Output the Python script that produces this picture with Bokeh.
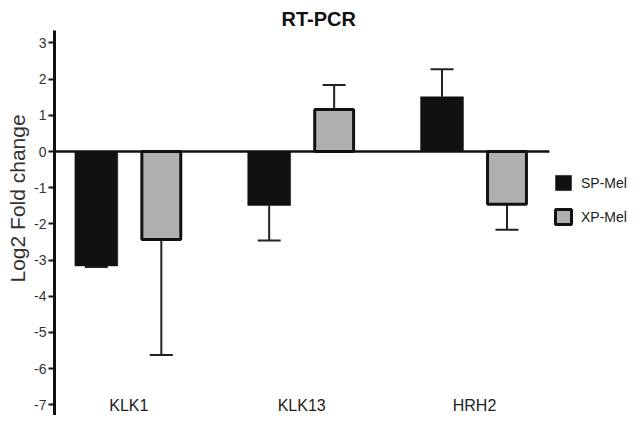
from bokeh.plotting import figure
from bokeh.models import ColumnDataSource, FixedTicker, Legend, LegendItem, LinearAxis, Title
from bokeh.core.properties import value
from bokeh.embed import file_html
from bokeh.resources import INLINE

# ---- data ----
genes = ["KLK1", "KLK13", "HRH2"]
series = ["SP-Mel", "XP-Mel"]
sp_mel = [-3.16, -1.49, 1.51]
xp_mel = [-2.43, 1.16, -1.46]
sp_err = [0.03, 0.97, 0.76]
xp_err = [3.19, 0.68, 0.70]
y_ticks = [3, 2, 1, 0, -1, -2, -3, -4, -5, -6, -7]
y_title = "Log2 Fold change"
chart_title = "RT-PCR"

# ---- layout / styles ----
FONT = "Liberation Sans"
OFFSET = 0.188
SP_W = 0.248
XP_W = 0.225
X_START, X_END = -0.430, 2.891      # frame spans to the right edge (legend lives inside)
ZERO_END = 2.435                    # where the zero axis line stops
Y_START, Y_END = -7.293, 3.343
LABEL_Y = -7.265                    # bottom of the category labels

gx = list(range(len(genes)))

def err_end(vals, errs):
    return [v - e if v < 0 else v + e for v, e in zip(vals, errs)]

sp_src = ColumnDataSource(dict(x=[g - OFFSET for g in gx], top=sp_mel, end=err_end(sp_mel, sp_err)))
xp_src = ColumnDataSource(dict(x=[g + OFFSET for g in gx], top=xp_mel, end=err_end(xp_mel, xp_err)))

p = figure(width=628, height=415, output_backend="svg", toolbar_location=None,
           x_range=(X_START, X_END), y_range=(Y_START, Y_END),
           x_axis_location=None, min_border_left=53, min_border_right=0,
           min_border_top=30, min_border_bottom=0)
p.grid.visible = False
p.outline_line_color = None
p.background_fill_color = "white"

p.title.text = chart_title
p.title.align = "left"
p.title.text_font = FONT
p.title.text_font_size = "20px"
p.title.text_font_style = "bold"
p.title.text_color = "#111111"
p.title.standoff = 2
p.title.offset = 227

ax = p.yaxis[0]
ax.ticker = FixedTicker(ticks=y_ticks)
ax.bounds = (Y_START, Y_END)
ax.major_label_overrides = {t: str(t) for t in y_ticks}
ax.minor_tick_line_color = None
ax.axis_line_width = 3
ax.axis_line_color = "#111111"
ax.major_tick_line_width = 2
ax.major_tick_line_color = "#111111"
ax.major_tick_out = 6
ax.major_tick_in = 0
ax.major_label_standoff = 2
ax.major_label_text_font = FONT
ax.major_label_text_font_size = "14px"
ax.major_label_text_color = "#333333"

# vertical y title, placed higher than the frame centre like the reference
p.add_layout(Title(text=y_title, align="left", offset=133, standoff=6,
                   text_font=FONT, text_font_size="21px", text_font_style="normal",
                   text_color="#333333"), "left")

# zero line = x axis fixed at 0
zero_axis = LinearAxis(fixed_location=0, ticker=FixedTicker(ticks=[]), bounds=(X_START, ZERO_END),
                       axis_line_width=2.5, axis_line_color="#111111",
                       major_tick_out=0, major_tick_in=0, minor_tick_line_color=None,
                       major_label_text_font_size="0px")
p.add_layout(zero_axis, "above")

# error bars (drawn before bars)
for src in (sp_src, xp_src):
    p.segment(x0="x", y0="top", x1="x", y1="end", source=src, line_color="#222222", line_width=2)
    p.scatter(x="x", y="end", source=src, marker="dash", size=23, line_color="#222222", line_width=2)

sp_r = p.vbar(x="x", top="top", bottom=0, width=SP_W, source=sp_src,
              fill_color="#111111", line_color="#111111", line_width=0.5)
xp_r = p.vbar(x="x", top="top", bottom=0, width=XP_W, source=xp_src,
              fill_color="#b0b0b0", line_color="#111111", line_width=3)

# category labels
p.text(x=gx, y=[LABEL_Y] * len(gx), text=genes, text_align="center", text_baseline="bottom",
       text_font=value(FONT), text_font_size="16px", text_color="#222222")

legend = Legend(items=[LegendItem(label=series[0], renderers=[sp_r]),
                       LegendItem(label=series[1], renderers=[xp_r])],
                location=(499, 189), orientation="vertical",
                glyph_width=20, glyph_height=19, spacing=15, padding=0, margin=0,
                label_standoff=8, label_text_font=FONT, label_text_font_size="14px",
                label_text_color="#222222", border_line_color=None,
                background_fill_alpha=0)
p.add_layout(legend)

open("out.html", "w").write(file_html(p, INLINE))
